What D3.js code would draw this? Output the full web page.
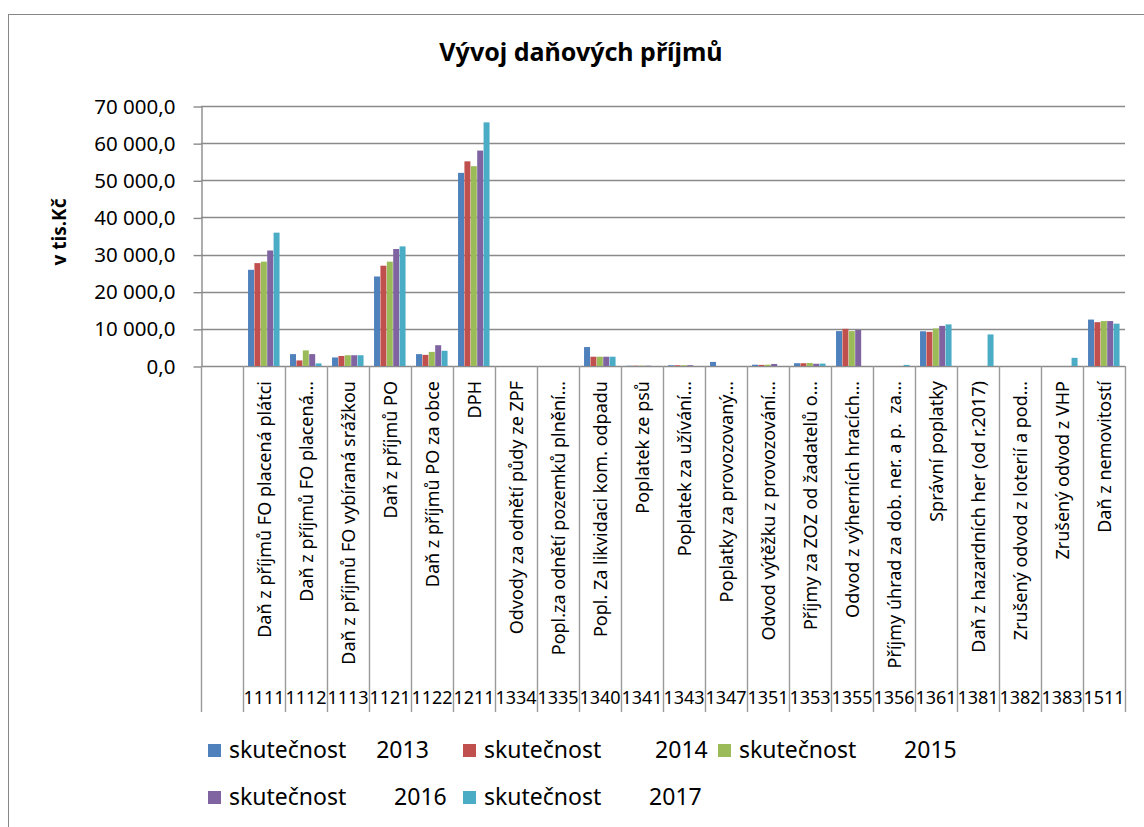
<!DOCTYPE html>
<html>
<head>
<meta charset="utf-8">
<script src="https://cdnjs.cloudflare.com/ajax/libs/d3/7.8.5/d3.min.js"></script>
<style>
  body { margin: 0; background: #fff; }
  svg { font-family: "Noto Sans", "Open Sans", sans-serif; }
</style>
</head>
<body>
<svg id="chart" width="1144" height="827"></svg>
<script>
// categories (first one is empty, like the blank row in the source sheet)
var codes = ["", "1111", "1112", "1113", "1121", "1122", "1211", "1334", "1335", "1340", "1341",
  "1343", "1347", "1351", "1353", "1355", "1356", "1361", "1381", "1382", "1383", "1511"];

var labels = ["",
  "Daň z příjmů FO placená plátci",
  "Daň z příjmů FO placená…",
  "Daň z příjmů FO vybíraná srážkou",
  "Daň z příjmů PO",
  "Daň z příjmů PO za obce",
  "DPH",
  "Odvody za odnětí půdy ze ZPF",
  "Popl.za odnětí pozemků plnění…",
  "Popl. Za likvidaci kom. odpadu",
  "Poplatek ze psů",
  "Poplatek za užívání…",
  "Poplatky za provozovaný…",
  "Odvod výtěžku z provozování…",
  "Příjmy za ZOZ od žadatelů o…",
  "Odvod z výherních hracích…",
  "Příjmy úhrad za dob. ner. a p.  za…",
  "Správní poplatky",
  "Daň z hazardních her (od r.2017)",
  "Zrušený odvod z loterií a pod…",
  "Zrušený odvod z VHP",
  "Daň z nemovitostí"];

// series names keep the odd spacing of the original legend
var seriesNames = ["skutečnost     2013", "skutečnost         2014", "skutečnost        2015",
  "skutečnost        2016", "skutečnost        2017"];
var colors = ["#4F81BD", "#C0504D", "#9BBB59", "#8064A2", "#4BACC6"];

// values in tis. Kč
var s2013 = [null, 25900, 3200, 2300, 24100, 3200, 52000, 0, 0, 5100, 60, 200, 1100, 350, 750, 9400, 0, 9350, 0, 0, 0, 12500];
var s2014 = [null, 27700, 1500, 2700, 27000, 3000, 55100, 0, 0, 2500, 80, 200, 0, 300, 750, 10000, 0, 9200, 0, 0, 0, 11800];
var s2015 = [null, 28100, 4200, 2900, 28100, 3800, 53800, 0, 0, 2500, 90, 200, 0, 350, 800, 9400, 0, 10100, 0, 0, 0, 12100];
var s2016 = [null, 31100, 3200, 2900, 31500, 5600, 58000, 0, 0, 2500, 80, 220, 0, 550, 600, 9700, 0, 10800, 0, 0, 0, 12100];
var s2017 = [null, 35900, 700, 2900, 32200, 4100, 65600, 0, 0, 2500, 0, 0, 0, 0, 650, 0, 300, 11200, 8500, 0, 2200, 11400];
var series = [s2013, s2014, s2015, s2016, s2017];

var yTicks = [0, 10000, 20000, 30000, 40000, 50000, 60000, 70000];

var svg = d3.select("#chart");

// plot box (note: "top" is taken by window.top, hence the names)
var plotLeft = 201, plotRight = 1125, plotTop = 106, plotBase = 366, catBottom = 712;

var x0 = d3.scaleBand().domain(d3.range(codes.length)).range([plotLeft, plotRight]).padding(0);
var bw = x0.bandwidth();
var x1 = d3.scaleBand().domain(d3.range(series.length)).range([bw * 0.12, bw * 0.88]).padding(0);
var y = d3.scaleLinear().domain([0, 70000]).range([plotBase, plotTop]);

var cz = d3.formatLocale({ decimal: ",", thousands: "\u00a0", grouping: [3], currency: ["", ""] });
var fmt = cz.format(",.1f");

// chart border
svg.append("rect")
    .attr("x", 8.5).attr("y", 14.5)
    .attr("width", 1200).attr("height", 900)
    .attr("fill", "none").attr("stroke", "#868686");

// title
svg.append("text")
    .attr("x", 581).attr("y", 61)
    .attr("text-anchor", "middle")
    .style("font-weight", "bold").style("font-size", "25px")
    .text("Vývoj daňových příjmů");

// gridlines
svg.append("g").selectAll("line")
    .data(yTicks)
    .enter().append("line")
    .attr("x1", plotLeft).attr("x2", plotRight)
    .attr("y1", function(d) { return Math.round(y(d)) + 0.5; })
    .attr("y2", function(d) { return Math.round(y(d)) + 0.5; })
    .attr("stroke", "#8a8a8a").attr("stroke-width", 1.4);

// y axis
var yAxis = svg.append("g")
    .attr("transform", "translate(" + (plotLeft + 0.5) + ",0.5)")
    .call(d3.axisLeft(y).tickValues(yTicks).tickFormat(fmt).tickSizeInner(8).tickSizeOuter(0).tickPadding(18));
yAxis.selectAll("path, line").attr("stroke", "#8a8a8a").attr("stroke-width", 1.4);
yAxis.selectAll("text")
    .style("font-size", "20.5px").style("font-family", "\"Noto Sans\", sans-serif")
    .attr("fill", "#000");

svg.append("text")
    .attr("transform", "translate(66,232) rotate(-90)")
    .attr("text-anchor", "middle")
    .style("font-weight", "bold").style("font-size", "19px")
    .text("v tis.Kč");

// bars
var groups = svg.append("g").selectAll("g")
    .data(codes.map(function(c, i) { return i; }))
    .enter().append("g")
    .attr("transform", function(i) { return "translate(" + x0(i) + ",0)"; });

groups.selectAll("rect")
    .data(function(i) {
      return series.map(function(s, k) { return { k: k, v: s[i] }; })
        .filter(function(d) { return d.v; });
    })
    .enter().append("rect")
    .attr("x", function(d) { return x1(d.k); })
    .attr("width", x1.bandwidth() - 0.4)
    .attr("y", function(d) { return y(d.v); })
    .attr("height", function(d) { return plotBase - y(d.v); })
    .attr("fill", function(d) { return colors[d.k]; });

// category box lines (multi level axis)
var bounds = d3.range(codes.length + 1).map(function(i) { return i < codes.length ? x0(i) : plotRight; });
svg.append("g").selectAll("line")
    .data(bounds)
    .enter().append("line")
    .attr("x1", function(d) { return Math.round(d) + 0.5; })
    .attr("x2", function(d) { return Math.round(d) + 0.5; })
    .attr("y1", plotBase).attr("y2", catBottom)
    .attr("stroke", "#9a9a9a").attr("stroke-width", 1.4);

// rotated names
svg.append("g").selectAll("text")
    .data(labels)
    .enter().append("text")
    .attr("transform", function(d, i) {
      return "translate(" + (x0(i) + bw / 2) + ",381) rotate(-90)";
    })
    .attr("text-anchor", "end")
    .attr("dominant-baseline", "central")
    .attr("xml:space", "preserve")
    .style("font-size", "18px")
    .text(function(d) { return d; });

// codes row
svg.append("g").selectAll("text")
    .data(codes)
    .enter().append("text")
    .attr("x", function(d, i) { return x0(i) + bw / 2; })
    .attr("y", 704)
    .attr("text-anchor", "middle")
    .style("font-size", "18px")
    .text(function(d) { return d; });

// legend, 3 columns
var legend = svg.append("g").selectAll("g")
    .data(seriesNames)
    .enter().append("g")
    .attr("transform", function(d, i) {
      return "translate(" + (208 + (i % 3) * 255) + "," + (750 + Math.floor(i / 3) * 47) + ")";
    });

legend.append("rect")
    .attr("x", 0).attr("y", -6)
    .attr("width", 13).attr("height", 13)
    .attr("fill", function(d, i) { return colors[i]; });

legend.append("text")
    .attr("x", 21).attr("y", 8)
    .attr("xml:space", "preserve")
    .style("font-size", "23px")
    .text(function(d) { return d; });
</script>
</body>
</html>
